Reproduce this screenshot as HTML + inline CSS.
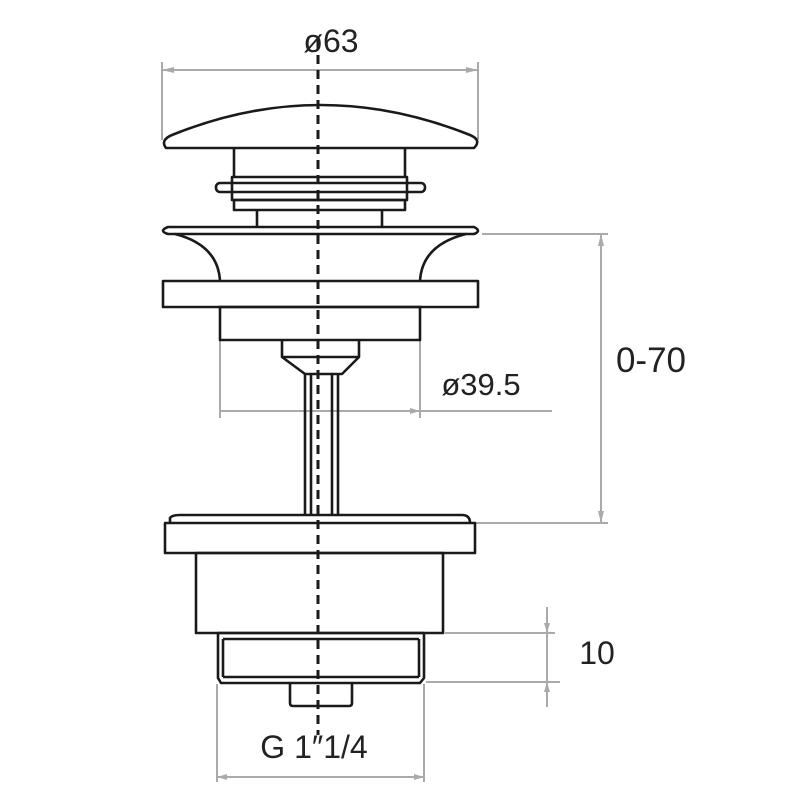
<!DOCTYPE html>
<html><head><style>html,body{margin:0;padding:0;background:#fff}svg{display:block}</style></head>
<body>
<svg width="800" height="800" viewBox="0 0 800 800" xmlns="http://www.w3.org/2000/svg">
<g stroke="#aaa" stroke-width="2" fill="none">
<line x1="162" y1="62" x2="162" y2="140"/><line x1="478" y1="62" x2="478" y2="140"/>
<line x1="162" y1="70" x2="478" y2="70"/>
<line x1="482" y1="234" x2="608" y2="234"/><line x1="474" y1="523" x2="608" y2="523"/>
<line x1="601" y1="234" x2="601" y2="523"/>
<line x1="220" y1="340" x2="220" y2="418"/><line x1="420" y1="340" x2="420" y2="418"/>
<line x1="220" y1="411" x2="552" y2="411"/>
<line x1="445" y1="633" x2="555" y2="633"/><line x1="426" y1="682" x2="560" y2="682"/>
<line x1="547" y1="607" x2="547" y2="707"/>
<line x1="217" y1="684" x2="217" y2="782"/><line x1="424" y1="684" x2="424" y2="782"/>
<line x1="217" y1="777" x2="424" y2="777"/>
</g>
<g fill="#aaa">
<path d="M162 70l12-3v6z M478 70l-12-3v6z M601 234l-3 12h6z M601 523l-3-12h6z M420 411l-10-3v6z M547 633l-3-10h6z M547 682l-3 10h6z M217 777l10-3v6z M424 777l-10-3v6z"/>
</g>
<g stroke="#1a1a1a" stroke-width="2.6" fill="none" stroke-linejoin="round">
<path d="M166 148 Q160 140 172 135 Q320 75 470 135 Q482 140 474 148 Z"/>
<path d="M234 148V178 M405 148V178"/>
<rect x="232" y="177" width="175" height="23"/>
<rect x="216" y="183" width="209" height="9" rx="4"/>
<rect x="234" y="200" width="171" height="10"/>
<path d="M257 210V227 M382 210V227"/>
<path d="M168 227H474Q482 231 474 234H168Q158 231 168 227Z"/>
<path d="M175 234Q218 245 220 281 M466 234Q422 245 420 281"/>
<rect x="163" y="281" width="315" height="26"/>
<rect x="220" y="307" width="200" height="33"/>
<path d="M282 340V357L305 374H342L359 357V340 M282 357H359"/>
<path d="M305 374V515 M311 374V515 M332 374V515 M338 374V515"/>
<path d="M170 523V518Q172 515 180 515H462Q470 515 470 523"/>
<rect x="165" y="523" width="310" height="30"/>
<rect x="196" y="553" width="247" height="80"/>
<path d="M218 633H424V678L420 683H221L218 678Z M223 639H419 M223 677H419 M223 639V677 M419 639V677"/>
<path d="M290 683V703Q290 706 293 706H349Q352 706 352 703V683"/>
</g>
<line x1="318" y1="40" x2="318" y2="735" stroke="#1a1a1a" stroke-width="3" stroke-dasharray="9,6"/>
<g font-family="'Liberation Sans',sans-serif" fill="#222">
<text x="331" y="52" font-size="32" text-anchor="middle">ø63</text>
<text x="651" y="372" font-size="35" text-anchor="middle">0-70</text>
<text x="481" y="395" font-size="31" text-anchor="middle">ø39.5</text>
<text x="597" y="664" font-size="32" text-anchor="middle">10</text>
<text x="314" y="758" font-size="32" text-anchor="middle">G 1″1/4</text>
</g>
</svg>
</body></html>
